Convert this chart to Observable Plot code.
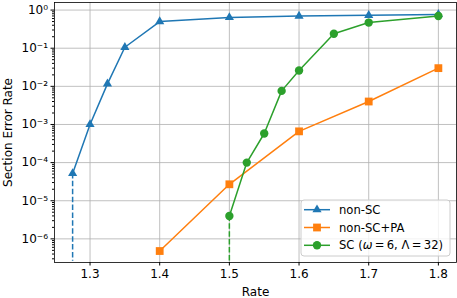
<!DOCTYPE html>
<html><head><meta charset="utf-8">
<script src="https://cdn.jsdelivr.net/npm/d3@7"></script>
<script src="https://cdn.jsdelivr.net/npm/@observablehq/plot@0.6"></script>
<style>
body{margin:0;background:#fff;font-family:"DejaVu Sans",sans-serif;}
#wrap{position:relative;width:457px;height:298px;}
</style></head>
<body><div id="wrap"></div>
<script>
// Data
const rateNonSC = [1.275, 1.3, 1.325, 1.35, 1.4, 1.5, 1.6, 1.7, 1.8];
const serNonSC  = [5.2e-5, 1e-3, 0.0116, 0.106, 0.50, 0.64, 0.70, 0.73, 0.77];
const rateNonSCPA = [1.4, 1.5, 1.6, 1.7, 1.8];
const serNonSCPA  = [4.8e-7, 2.7e-5, 6.6e-4, 4.0e-3, 0.030];
const rateSC = [1.5, 1.525, 1.55, 1.575, 1.6, 1.65, 1.7, 1.8];
const serSC  = [4.0e-6, 1.0e-4, 5.8e-4, 7.6e-3, 0.026, 0.24, 0.47, 0.70];
const dashRate = [1.275, 1.5];
const dashTop = [5.2e-5, 4.0e-6];
const dashBottom = 2.6e-7;
const seriesNames = ["non-SC", "non-SC+PA", "SC (ω = 6, Λ = 32)"];
const colors = ["#1f77b4", "#ff7f0e", "#2ca02c"];
const xTicks = [1.3, 1.4, 1.5, 1.6, 1.7, 1.8];
const yTicks = [1e-6, 1e-5, 1e-4, 1e-3, 1e-2, 1e-1, 1];
const yTickLabels = ["10⁻⁶", "10⁻⁵", "10⁻⁴", "10⁻³", "10⁻²", "10⁻¹", "10⁰"];
const xDomain = [1.249, 1.826];
const yDomain = [2.4e-7, 1.58];

const minorTicks = [];
for (let e = -7; e <= 0; e++) for (let m = 2; m <= 9; m++) {
  const v = m * Math.pow(10, e);
  if (v >= yDomain[0] && v <= yDomain[1]) minorTicks.push(v);
}
const mk = (xs, ys) => xs.map((x, i) => ({x, y: ys[i]}));
const dNon = mk(rateNonSC, serNonSC);
const dPA = mk(rateNonSCPA, serNonSCPA);
const dSC = mk(rateSC, serSC);
const dDash = dashRate.map((x, i) => ({x, y1: dashTop[i], y2: dashBottom, c: i === 0 ? colors[0] : colors[2]}));

const chart = Plot.plot({
  width: 457, height: 298,
  marginLeft: 54, marginRight: 1, marginTop: 2, marginBottom: 36,
  style: {fontFamily: "DejaVu Sans, sans-serif", fontSize: "12px", color: "#000", background: "#fff"},
  x: {domain: xDomain},
  y: {type: "log", domain: yDomain},
  marks: [
    Plot.ruleX(xTicks, {stroke: "#b0b0b0", strokeWidth: 0.8}),
    Plot.ruleY(yTicks, {stroke: "#b0b0b0", strokeWidth: 0.8}),
    Plot.ruleX(dDash, {x: "x", y1: "y1", y2: "y2", stroke: "c", strokeWidth: 1.5, strokeDasharray: "5.5,2.4"}),
    Plot.line(dNon, {x: "x", y: "y", stroke: colors[0], strokeWidth: 1.5}),
    Plot.dot(dNon, {x: "x", y: "y", fill: colors[0], symbol: "triangle", r: 3.4}),
    Plot.line(dPA, {x: "x", y: "y", stroke: colors[1], strokeWidth: 1.5}),
    Plot.dot(dPA, {x: "x", y: "y", fill: colors[1], symbol: "square", r: 4.4}),
    Plot.line(dSC, {x: "x", y: "y", stroke: colors[2], strokeWidth: 1.5}),
    Plot.dot(dSC, {x: "x", y: "y", fill: colors[2], symbol: "circle", r: 4.2}),
    Plot.frame({stroke: "#000", strokeWidth: 0.8}),
    Plot.axisX({ticks: xTicks, tickSize: 3.5, tickPadding: 3, tickFormat: d => d.toFixed(1), label: "Rate", labelAnchor: "center", labelArrow: "none", labelOffset: 33, fontSize: 12}),
    Plot.axisY({ticks: minorTicks, tickSize: 2, tickFormat: () => "", label: null}),
    Plot.axisY({ticks: yTicks, tickSize: 3.5, tickPadding: 3, tickFormat: d => yTickLabels[yTicks.indexOf(d)], label: "Section Error Rate", labelAnchor: "center", labelArrow: "none", labelOffset: 51, fontSize: 12})
  ]
});
const wrap = document.getElementById("wrap");
wrap.appendChild(chart);

// Legend
const ns = "http://www.w3.org/2000/svg";
const lg = document.createElementNS(ns, "svg");
lg.setAttribute("width", 151); lg.setAttribute("height", 58);
lg.style.position = "absolute"; lg.style.left = "300px"; lg.style.top = "199px";
const box = document.createElementNS(ns, "rect");
Object.entries({x: 1, y: 1, width: 149, height: 56, rx: 3, fill: "#fff", "fill-opacity": 0.8, stroke: "#cccccc", "stroke-width": 1}).forEach(([k, v]) => box.setAttribute(k, v));
lg.appendChild(box);
const symPaths = [d3.symbol(d3.symbolTriangle, Math.PI * 3.4 * 3.4)(), d3.symbol(d3.symbolSquare, Math.PI * 4.4 * 4.4)(), d3.symbol(d3.symbolCircle, Math.PI * 4.2 * 4.2)()];
seriesNames.forEach((name, i) => {
  const cy = 10.7 + i * 17.8;
  const ln = document.createElementNS(ns, "line");
  Object.entries({x1: 4, x2: 30, y1: cy, y2: cy, stroke: colors[i], "stroke-width": 1.5}).forEach(([k, v]) => ln.setAttribute(k, v));
  lg.appendChild(ln);
  const p = document.createElementNS(ns, "path");
  p.setAttribute("d", symPaths[i]); p.setAttribute("fill", colors[i]);
  p.setAttribute("transform", `translate(17,${cy})`);
  lg.appendChild(p);
  const t = document.createElementNS(ns, "text");
  t.setAttribute("x", 39); t.setAttribute("y", cy); t.setAttribute("dy", "0.35em");
  t.setAttribute("font-size", 11.6); t.setAttribute("font-family", "DejaVu Sans, sans-serif");
  if (i === 2) {
    t.append("SC (");
    const w = document.createElementNS(ns, "tspan"); w.setAttribute("font-style", "italic"); w.textContent = "ω";
    t.appendChild(w);
    t.append("\u2009=\u20096, ");
    const L = document.createElementNS(ns, "tspan"); L.textContent = "Λ";
    t.appendChild(L);
    t.append("\u2009=\u200932)");
  } else t.textContent = name;
  lg.appendChild(t);
});
wrap.appendChild(lg);
</script>
</body></html>
